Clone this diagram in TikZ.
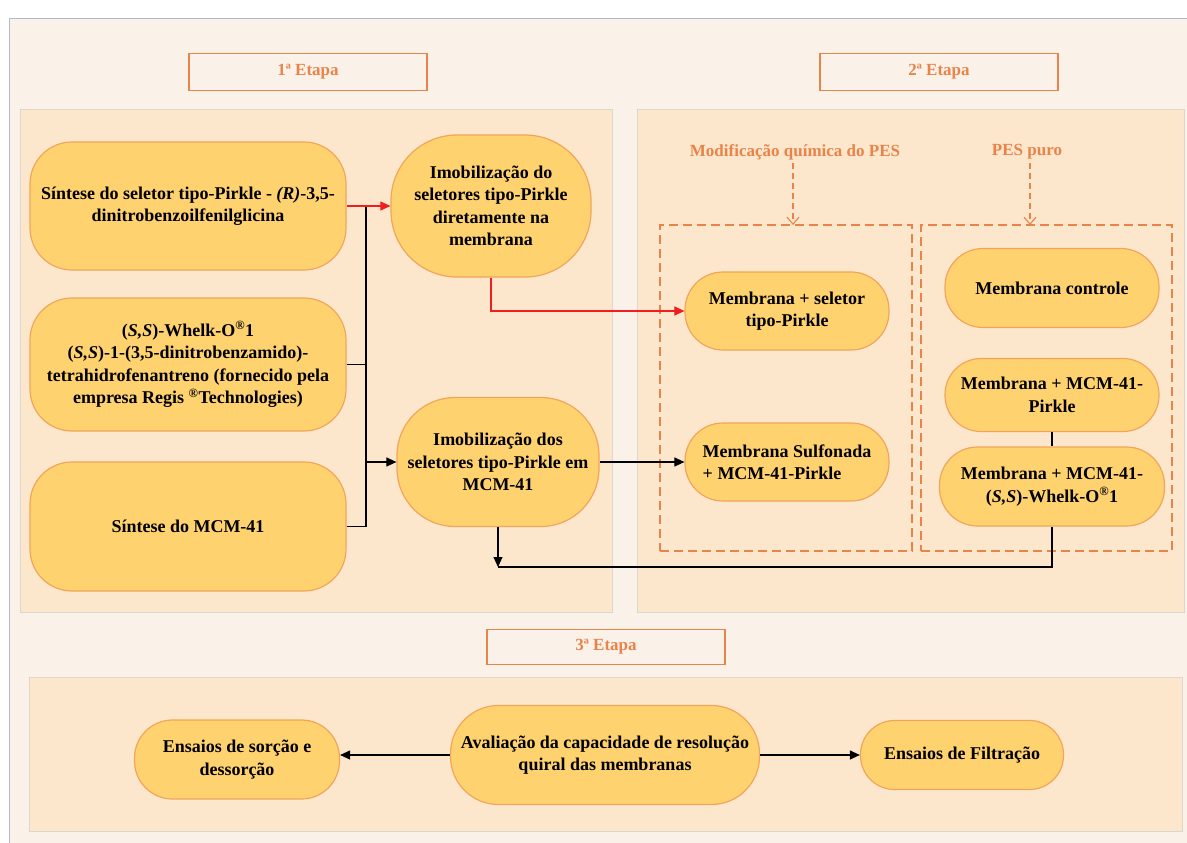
\documentclass[tikz,border=0pt]{standalone}
\usepackage{fontspec}
\setmainfont{Liberation Serif}
\usetikzlibrary{arrows.meta}
\definecolor{bgout}{RGB}{250,242,232}
\definecolor{panel}{RGB}{253,231,204}
\definecolor{panelline}{RGB}{222,214,205}
\definecolor{nodefill}{RGB}{255,210,112}
\definecolor{nodeline}{RGB}{242,165,90}
\definecolor{orangetxt}{RGB}{232,131,74}
\definecolor{frameline}{RGB}{176,188,203}
\definecolor{redline}{RGB}{240,30,30}
\tikzset{
  proc/.style={draw=nodeline, fill=nodefill, line width=1.2pt, align=center,
    font=\fontsize{18}{22.5}\selectfont\bfseries, inner sep=2pt},
  titlebox/.style={draw=orangetxt, line width=1.5pt, fill=bgout,
    font=\fontsize{17}{20}\selectfont\bfseries, text=orangetxt,
    minimum width=238pt, minimum height=37pt},
  lbl/.style={font=\fontsize{17}{20}\selectfont\bfseries, text=orangetxt},
  panelbox/.style={fill=panel, draw=panelline, line width=0.8pt},
  dbox/.style={draw=orangetxt, dash pattern=on 9pt off 5pt, line width=1.1pt},
  darrow/.style={draw=orangetxt, dash pattern=on 6pt off 4pt, line width=1.1pt,
    -{Straight Barb[length=7pt,width=12pt,line width=1.1pt]}},
  link/.style={line width=1.1pt},
  conn/.style={line width=1.1pt, -{Triangle[length=10pt,width=9pt]}},
}
\begin{document}
\begin{tikzpicture}[x=1pt,y=-1pt]
\useasboundingbox (0,0) rectangle (1187,843);
\fill[white] (0,0) rectangle (1187,843);
\draw[frameline, fill=bgout, line width=1pt] (9.5,18.5) rectangle (1200,860);

% panels
\draw[panelbox] (20,109) rectangle (612,612);
\draw[panelbox] (637,109) rectangle (1184,612);
\draw[panelbox] (29,677) rectangle (1182,831);

% titles
\node[titlebox] (t1) at (308,72) {1ª Etapa};
\node[titlebox] (t2) at (939,72) {2ª Etapa};
\node[titlebox, minimum height=35pt] (t3) at (606,647) {3ª Etapa};

% stage 2 labels and dashed boxes
\node[lbl] (lab1) at (795,152) {Modificação química do PES};
\node[lbl] (lab2) at (1027,152) {PES puro};
\node[dbox, minimum width=252pt, minimum height=326pt] (db1) at (786,388) {};
\node[dbox, minimum width=251pt, minimum height=326pt] (db2) at (1046.5,388) {};
\coordinate (d1s) at (793,163);
\coordinate (d1e) at (793,225);
\coordinate (d2s) at (1030,163);
\coordinate (d2e) at (1030,225);
\draw[darrow] (d1s) -- (d1e);
\draw[darrow] (d2s) -- (d2e);

% stage 1 nodes
\node[proc, minimum width=316pt, minimum height=128pt, rounded corners=42pt] (A) at (188,206)
  {Síntese do seletor tipo-Pirkle - \textit{(R)}-3,5-\\dinitrobenzoilfenilglicina};
\node[proc, minimum width=316pt, minimum height=133pt, rounded corners=42pt] (B) at (188,364.5)
  {(\textit{S,S})-Whelk-O\textsuperscript{®}1\\(\textit{S,S})-1-(3,5-dinitrobenzamido)-\\tetrahidrofenantreno (fornecido pela\\empresa Regis \textsuperscript{®}Technologies)};
\node[proc, minimum width=316pt, minimum height=129pt, rounded corners=42pt] (C) at (188,526.5)
  {Síntese do MCM-41};
\node[proc, minimum width=200pt, minimum height=142pt, rounded corners=66pt] (D) at (491,206)
  {Imobilização do\\seletores tipo-Pirkle\\diretamente na\\membrana};
\node[proc, minimum width=202pt, minimum height=129pt, rounded corners=58pt] (E) at (498,462)
  {Imobilização dos\\seletores tipo-Pirkle em\\MCM-41};

% stage 2 nodes
\node[proc, minimum width=204pt, minimum height=78pt, rounded corners=38pt] (F) at (787,311)
  {Membrana + seletor\\tipo-Pirkle};
\node[proc, align=left, minimum width=204pt, minimum height=78pt, rounded corners=38pt] (G) at (787,462)
  {Membrana Sulfonada\\+ MCM-41-Pirkle};
\node[proc, minimum width=214pt, minimum height=79pt, rounded corners=38pt] (H) at (1052,288)
  {Membrana controle};
\node[proc, minimum width=214pt, minimum height=73pt, rounded corners=36pt] (I) at (1052,395)
  {Membrana + MCM-41-\\Pirkle};
\node[proc, minimum width=225pt, minimum height=79pt, rounded corners=38pt] (J) at (1052,486.5)
  {Membrana + MCM-41-\\(\textit{S,S})-Whelk-O\textsuperscript{®}1};

% stage 3 nodes
\node[proc, minimum width=205pt, minimum height=79pt, rounded corners=38pt] (K) at (237,759.5)
  {Ensaios de sorção e\\dessorção};
\node[proc, minimum width=309pt, minimum height=99pt, rounded corners=48pt] (L) at (605,755)
  {Avaliação da capacidade de resolução\\quiral das membranas};
\node[proc, minimum width=203pt, minimum height=69pt, rounded corners=34pt] (M) at (962,755)
  {Ensaios de Filtração};

% stage 1 connectors
\coordinate (j1) at (366,206);
\coordinate (j2) at (366,526.5);
\draw[link] (j1) -- (j2);
\draw[link] (B.east) -- (B.east -| j1);
\draw[link] (C.east) -- (j2);
\draw[conn] (E.west -| j1) -- (E.west);
\draw[conn, redline] (A.east) -- (D.west);
\draw[conn, redline] (D.south) |- (F.west);
\draw[conn] (E.east) -- (G.west);
\draw[link] (I.south) -- (J.north);
\coordinate (lp) at (498,567);
\draw[link] (J.south) |- (lp);
\draw[conn] (E.south) -- (lp);

% stage 3 connectors
\draw[conn] (L.west) -- (L.west -| K.east);
\draw[conn] (L.east) -- (M.west);
\end{tikzpicture}
\end{document}
